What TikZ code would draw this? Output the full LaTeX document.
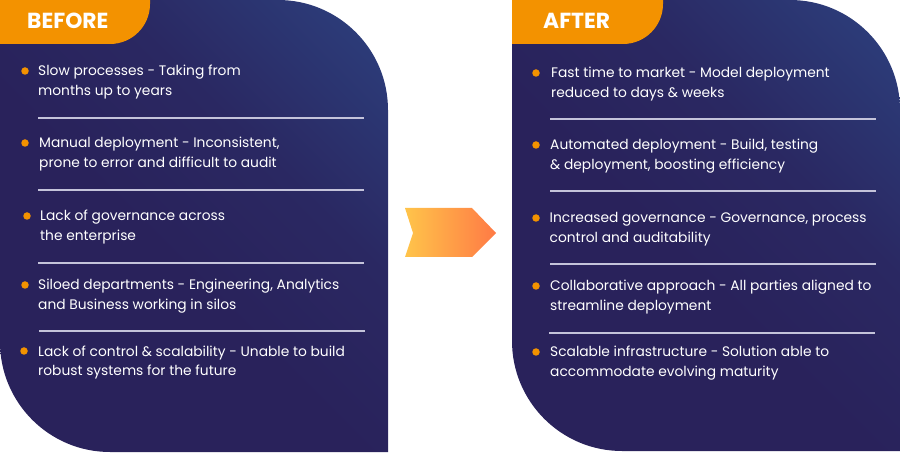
\documentclass[tikz,border=0pt]{standalone}
\usepackage{fontspec}
\setmainfont{Poppins}
\usetikzlibrary{calc}
\definecolor{pdark}{HTML}{29225B}
\definecolor{pmid}{HTML}{2A2862}
\definecolor{pmid2}{HTML}{2C3B78}
\definecolor{pblue}{HTML}{2F5C96}
\definecolor{tabor}{HTML}{F39200}
\definecolor{sepc}{HTML}{C4C3DA}
\definecolor{arrY}{HTML}{FFC44A}
\definecolor{arrO}{HTML}{FF7A45}
\pgfdeclareverticalshading{panelshade}{100bp}{color(0bp)=(pdark); color(45bp)=(pdark); color(62bp)=(pmid); color(80bp)=(pmid2); color(100bp)=(pblue)}
\tikzset{
  panel/.style={shading=panelshade, shading angle=-45},
  tab/.style={fill=tabor},
  tabtext/.style={anchor=base west, inner sep=0pt, text=white, font=\fontsize{21.8}{24}\selectfont\bfseries},
  item/.style={anchor=base west, inner sep=0pt, text=white, align=left, font=\fontsize{13.8}{20}\selectfont},
  bullet/.style={circle, fill=tabor, inner sep=0pt, minimum size=7.5pt},
  sep/.style={draw=sepc, line width=1.2pt},
}
\begin{document}
\begin{tikzpicture}[x=1pt, y=-1pt]
\useasboundingbox (0,0) rectangle (900,454);
% panels
\shade[panel] (0,0) -- (278,0) arc[start angle=-90, end angle=0, radius=110] -- (388,452) -- (110,452) arc[start angle=90, end angle=180, radius=110] -- cycle;
\shade[panel] (512,0) -- (790,0) arc[start angle=-90, end angle=0, radius=110] -- (900,451) -- (622,451) arc[start angle=90, end angle=180, radius=110] -- cycle;
% tabs
\fill[tab] (0,0) -- (150,0) [rounded corners=40pt] -- (150,44) [sharp corners] -- (0,44) -- cycle;
\fill[tab] (512,0) -- (663,0) [rounded corners=40pt] -- (663,44) [sharp corners] -- (512,44) -- cycle;
\node[tabtext] (tb) at (27,29) {BEFORE};
\node[tabtext] (ta) at (543,29) {AFTER};
% arrow
\shade[left color=arrY, right color=arrO] (405,208) -- (472,208) -- (496,233) -- (472,257) -- (405,257) -- (413,233) -- cycle;
% left items (node placed at baseline of its last line)
\node[bullet] (bl1) at (25,71) {};
\node[item] (l1) at (38,96) {Slow processes - Taking from\\months up to years};
\coordinate (ls1a) at (38,118); \coordinate (ls1b) at (364,118);
\node[bullet] (bl2) at (25,143) {};
\node[item] (l2) at (39,168) {Manual deployment - Inconsistent,\\prone to error and difficult to audit};
\coordinate (ls2a) at (38,190); \coordinate (ls2b) at (364,190);
\node[bullet] (bl3) at (27,216) {};
\node[item] (l3) at (40,241) {Lack of governance across\\the enterprise};
\coordinate (ls3a) at (38,263); \coordinate (ls3b) at (364,263);
\node[bullet] (bl4) at (25,285) {};
\node[item] (l4) at (38,310) {Siloed departments - Engineering, Analytics\\and Business working in silos};
\coordinate (ls4a) at (39,331); \coordinate (ls4b) at (365,331);
\node[bullet] (bl5) at (24,351) {};
\node[item] (l5) at (38,376) {Lack of control \& scalability - Unable to build\\robust systems for the future};
\draw[sep] (ls1a) -- (ls1b);
\draw[sep] (ls2a) -- (ls2b);
\draw[sep] (ls3a) -- (ls3b);
\draw[sep] (ls4a) -- (ls4b);
% right items
\node[bullet] (br1) at (536,73) {};
\node[item] (r1) at (551,98) {Fast time to market - Model deployment\\reduced to days \& weeks};
\coordinate (rs1a) at (550,119); \coordinate (rs1b) at (876,119);
\node[bullet] (br2) at (536,145) {};
\node[item] (r2) at (550,170) {Automated deployment - Build, testing\\\& deployment, boosting efficiency};
\coordinate (rs2a) at (550,191); \coordinate (rs2b) at (876,191);
\node[bullet] (br3) at (536,218) {};
\node[item] (r3) at (549.5,243) {Increased governance - Governance, process\\control and auditability};
\coordinate (rs3a) at (550,264); \coordinate (rs3b) at (876,264);
\node[bullet] (br4) at (536,286) {};
\node[item] (r4) at (550,311) {Collaborative approach - All parties aligned to\\streamline deployment};
\coordinate (rs4a) at (549,333); \coordinate (rs4b) at (875,333);
\node[bullet] (br5) at (536,352) {};
\node[item] (r5) at (550,377) {Scalable infrastructure - Solution able to\\accommodate evolving maturity};
\draw[sep] (rs1a) -- (rs1b);
\draw[sep] (rs2a) -- (rs2b);
\draw[sep] (rs3a) -- (rs3b);
\draw[sep] (rs4a) -- (rs4b);
\end{tikzpicture}
\end{document}
